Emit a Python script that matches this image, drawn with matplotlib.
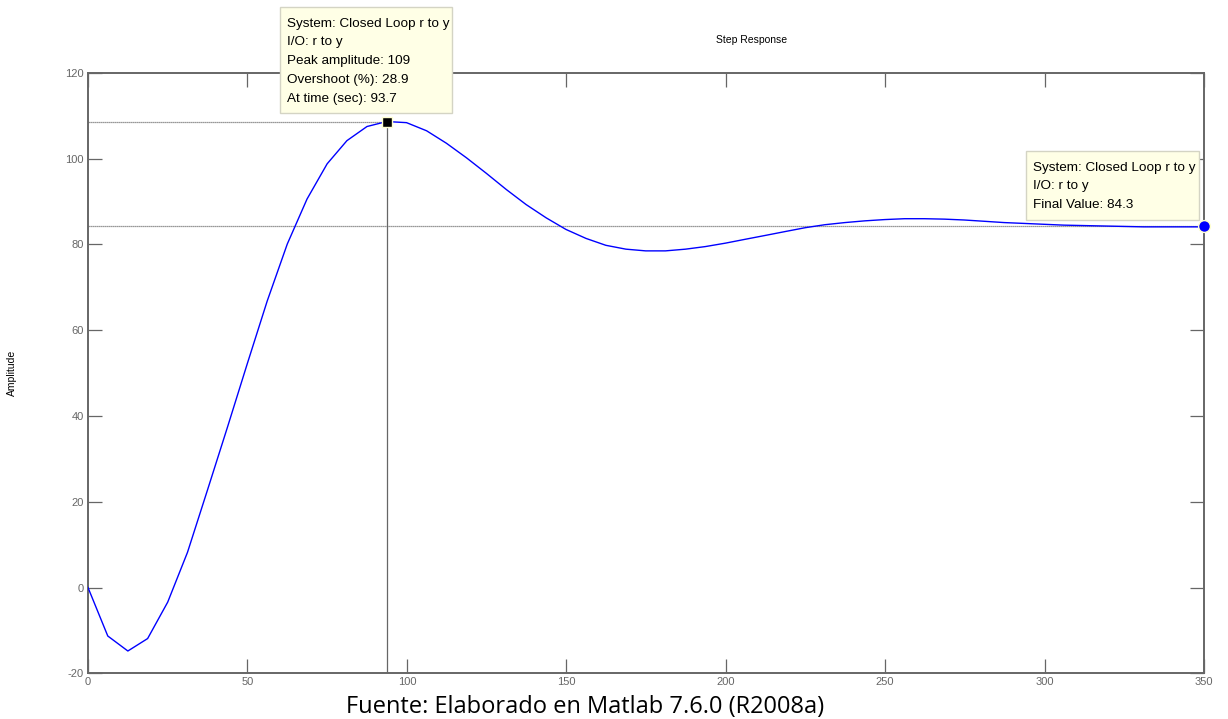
import matplotlib.pyplot as plt
from matplotlib.patches import Rectangle

# step response samples (sec, amplitude)
time = [0.0, 6.2, 12.5, 18.7, 25.0, 31.2, 37.5, 43.7, 50.0, 56.2,
        62.5, 68.7, 75.0, 81.2, 87.5, 93.7, 99.9, 106.2, 112.4, 118.7,
        124.9, 131.2, 137.4, 143.7, 149.9, 156.2, 162.4, 168.7, 174.9, 181.1,
        187.4, 193.6, 199.9, 206.1, 212.4, 218.6, 224.9, 231.1, 237.4, 243.6,
        249.9, 256.1, 262.3, 268.6, 274.8, 281.1, 287.3, 293.6, 299.8, 306.1,
        312.3, 318.6, 324.8, 331.1, 337.3, 343.5, 349.8]
amplitude = [0.0, -11.3, -14.8, -11.9, -3.4, 8.2, 22.8, 37.3, 52.3, 66.8,
             80.1, 90.6, 98.8, 104.2, 107.5, 108.66, 108.4, 106.5, 103.6, 100.2,
             96.6, 92.8, 89.3, 86.2, 83.5, 81.4, 79.8, 78.9, 78.5, 78.5,
             78.9, 79.5, 80.3, 81.2, 82.1, 83.0, 83.9, 84.6, 85.1, 85.5,
             85.8, 86.0, 86.0, 85.9, 85.7, 85.4, 85.1, 84.9, 84.7, 84.5,
             84.4, 84.3, 84.2, 84.1, 84.1, 84.1, 84.1]

peak_time = 93.7
peak_amplitude = 108.66
final_value = 84.3
t_end = 350

x_ticks = [0, 50, 100, 150, 200, 250, 300, 350]
y_ticks = [-20, 0, 20, 40, 60, 80, 100, 120]

W, H = 1228, 719
plt.rcParams['font.family'] = ['Liberation Sans', 'DejaVu Sans']
plt.rcParams['axes.unicode_minus'] = False
fig = plt.figure(figsize=(W / 100, H / 100), dpi=100)


def fx(px):
    return px / W


def fy(py):
    return 1 - py / H


ax = fig.add_axes([fx(88), fy(673.3), fx(1204) - fx(88), fy(72.9) - fy(673.3)])

axis_gray = '#666666'
ax.plot(time, amplitude, color='#0000ff', lw=1.0, zorder=3)

# characteristic lines
ax.axhline(final_value, color='#777777', lw=0.9, ls=(0, (1, 0.6)), zorder=2)
ax.plot([0, peak_time], [peak_amplitude, peak_amplitude], color='#777777',
        lw=0.9, ls=(0, (1, 0.6)), zorder=2)
ax.plot([peak_time, peak_time], [-20, peak_amplitude], color='#666666',
        lw=0.9, zorder=2)

ax.plot(peak_time, peak_amplitude, marker='s', ms=7.5, color='black',
        mec='#ffffd0', mew=1, zorder=5, clip_on=False)
ax.plot(t_end, final_value, marker='o', ms=8.5, color='#0000ff',
        mec='#ffffd0', mew=1, zorder=5, clip_on=False)

ax.set_xlim(0, t_end)
ax.set_ylim(-20, 120)
ax.set_xticks(x_ticks)
ax.set_yticks(y_ticks)
ax.tick_params(direction='in', length=10, width=0.9, color=axis_gray,
               labelcolor=axis_gray, labelsize=8, top=True, right=True, pad=3)
for s in ax.spines.values():
    s.set_color(axis_gray)
    s.set_linewidth(1.4)

ax.set_ylabel('Amplitude', fontsize=7.5, color='black', labelpad=0)
ax.yaxis.set_label_coords(-(88 - 17) / (1204 - 88), 0.5)

fig.text(fx(752), fy(40), 'Step Response', fontsize=7.5, ha='center', va='center')


def data_tip(x0, y0, x1, y1, lines, line_y):
    fig.add_artist(Rectangle((fx(x0), fy(y1)), fx(x1) - fx(x0), fy(y0) - fy(y1),
                             transform=fig.transFigure, facecolor='#ffffe6',
                             edgecolor='#d4d4c4', lw=1.0, zorder=10))
    for txt, yy in zip(lines, line_y):
        fig.text(fx(x0 + 7), fy(yy), txt, fontsize=9.7, ha='left', va='center',
                 zorder=11)


overshoot = (peak_amplitude - final_value) / final_value * 100
data_tip(280, 7, 452, 113,
         ['System: Closed Loop r to y', 'I/O: r to y',
          f'Peak amplitude: {peak_amplitude:.3g}',
          f'Overshoot (%): {overshoot:.1f}',
          f'At time (sec): {peak_time:.1f}'],
         [24, 42.5, 61, 80, 99])
data_tip(1026, 151, 1199, 220,
         ['System: Closed Loop r to y', 'I/O: r to y',
          f'Final Value: {final_value:.1f}'],
         [168, 186.5, 205])

fig.text(fx(585), fy(707), 'Fuente: Elaborado en Matlab 7.6.0 (R2008a)',
         fontsize=17, family=['Open Sans', 'DejaVu Sans'], ha='center', va='center')

fig.savefig('out.png', dpi=100, facecolor='white')
